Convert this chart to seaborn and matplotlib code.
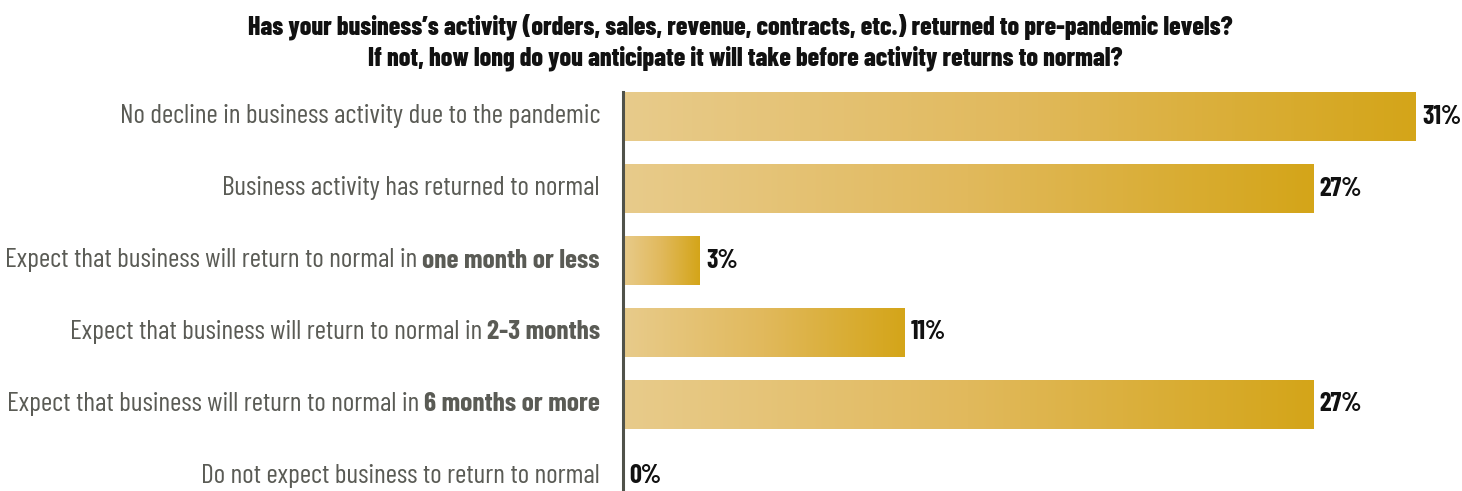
import matplotlib
matplotlib.use("Agg")
import matplotlib.pyplot as plt
from matplotlib import font_manager
from matplotlib.colors import LinearSegmentedColormap
import numpy as np
import pandas as pd
import seaborn as sns

# Survey answers: regular part of each label, and the emphasised (bold) tail
label_plain = [
    "No decline in business activity due to the pandemic",
    "Business activity has returned to normal",
    "Expect that business will return to normal in",
    "Expect that business will return to normal in",
    "Expect that business will return to normal in",
    "Do not expect business to return to normal",
]
label_bold = ["", "", "one month or less", "2-3 months", "6 months or more", ""]
values = [31, 27, 3, 11, 27, 0]
title_lines = [
    "Has your business\u2019s activity (orders, sales, revenue, contracts, etc.) returned to pre-pandemic levels?",
    "If not, how long do you anticipate it will take before activity returns to normal?",
]

W, H = 1462, 491
LIGHT, MID, DARK = "#e8cb8b", "#e1b95c", "#d4a519"
LABEL_COLOR = "#5a5b55"
AXIS_COLOR = "#50524a"

sns.set_theme(style="white")
installed = {f.name for f in font_manager.fontManager.ttflist}
base = next(f for f in ["Barlow Condensed", "Roboto Condensed", "Archivo Narrow",
                        "Asap Condensed", "Liberation Sans"] if f in installed)
plt.rcParams["font.family"] = [base, "DejaVu Sans"]

fig = plt.figure(figsize=(W / 100, H / 100), dpi=100)
x0_px = 623
ax = fig.add_axes([x0_px / W, 0, (W - x0_px) / W, 411 / H])

full_labels = [(p + " " + b).strip() for p, b in zip(label_plain, label_bold)]
df = pd.DataFrame({"answer": full_labels, "share": values})
sns.barplot(data=df, x="share", y="answer", orient="h", width=0.68,
            color=DARK, ax=ax, saturation=1)

px_per_unit = 25.58
xmax = (W - x0_px) / px_per_unit
row_px = 72
ylim = (5 + 14.5 / row_px, -36.5 / row_px)

# Left-to-right gold gradient inside each bar
cmap = LinearSegmentedColormap.from_list("gold", [LIGHT, MID, DARK])
grad = np.linspace(0, 1, 256).reshape(1, -1)
for patch in list(ax.patches):
    w = patch.get_width()
    if w <= 0:
        patch.set_visible(False)
        continue
    x, y, h = patch.get_x(), patch.get_y(), patch.get_height()
    im = ax.imshow(grad, extent=[x, x + w, y + h, y], cmap=cmap, aspect="auto",
                   interpolation="bilinear", zorder=1)
    im.set_clip_path(patch)
    patch.set_facecolor("none")
    patch.set_edgecolor("none")

ax.set_xlim(0, xmax)
ax.set_ylim(*ylim)
ax.set_xlabel("")
ax.set_ylabel("")
ax.set_xticks([])
ax.set_yticks([])
for side in ["top", "right", "bottom"]:
    ax.spines[side].set_visible(False)
ax.spines["left"].set_color(AXIS_COLOR)
ax.spines["left"].set_linewidth(2.2)
ax.spines["left"].set_bounds(ylim[0], -0.34)

# Value labels
for i, v in enumerate(values):
    ax.text(v + 0.24, i, f"{v}%", ha="left", va="center", fontsize=19,
            fontweight="bold", color="#111111")

# Category labels, with the bold tail measured so the regular part sits before it
fig.canvas.draw()
renderer = fig.canvas.get_renderer()
trans = ax.get_yaxis_transform()
label_x = -23 / (W - x0_px)
fs = 19.8
for i, (p, b) in enumerate(zip(label_plain, label_bold)):
    if b:
        tb = ax.text(label_x, i, b, ha="right", va="center", fontsize=fs,
                     fontweight="bold", color=LABEL_COLOR, transform=trans)
        bw = tb.get_window_extent(renderer).width
        off = -(bw + 5) / (W - x0_px)
        ax.text(label_x + off, i, p, ha="right", va="center", fontsize=fs,
                color=LABEL_COLOR, transform=trans)
    else:
        ax.text(label_x, i, p, ha="right", va="center", fontsize=fs,
                color=LABEL_COLOR, transform=trans)

fig.text(740 / W, 1 - 27 / H, title_lines[0], ha="center", va="center",
         fontsize=18.6, fontweight="heavy", color="#111111")
fig.text(745 / W, 1 - 58 / H, title_lines[1], ha="center", va="center",
         fontsize=18.6, fontweight="heavy", color="#111111")

fig.savefig("out.png", dpi=100, facecolor="white")
